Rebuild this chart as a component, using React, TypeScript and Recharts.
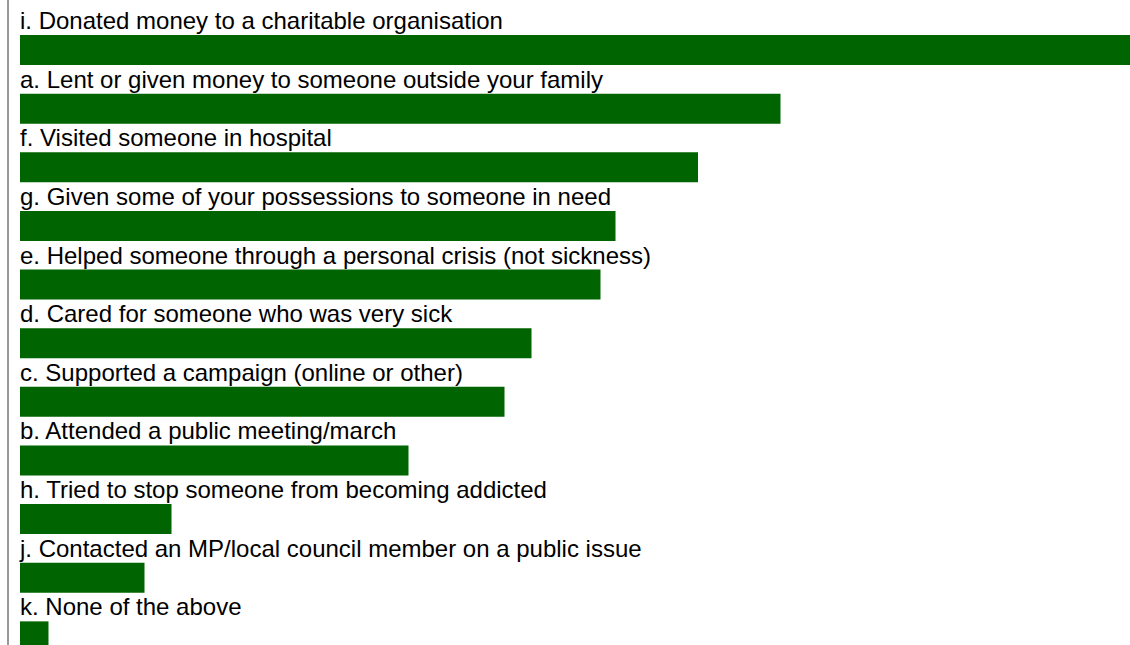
import React from "react";
import { BarChart, Bar, XAxis, YAxis, LabelList } from "recharts";

const categories = [
  "i. Donated money to a charitable organisation",
  "a. Lent or given money to someone outside your family",
  "f. Visited someone in hospital",
  "g. Given some of your possessions to someone in need",
  "e. Helped someone through a personal crisis (not sickness)",
  "d. Cared for someone who was very sick",
  "c. Supported a campaign (online or other)",
  "b. Attended a public meeting/march",
  "h. Tried to stop someone from becoming addicted",
  "j. Contacted an MP/local council member on a public issue",
  "k. None of the above",
];

const values = [74.0, 50.7, 45.2, 39.7, 38.7, 34.1, 32.3, 25.9, 10.1, 8.3, 1.9];

const data = categories.map((name, i) => ({ name, value: values[i] }));

const FONT = "Arial, 'Liberation Sans', sans-serif";

const renderLabel = (props: any) => {
  const { x, y, value } = props;
  return (
    <text x={x} y={y - 6} fontSize={24} fontFamily={FONT} fill="#000">
      {value}
    </text>
  );
};

export default function App() {
  return (
    <div style={{ position: "fixed", left: 0, top: 0, width: 1130, height: 645, overflow: "hidden", background: "#fff" }}>
      <BarChart
        width={1130}
        height={666}
        data={data}
        layout="vertical"
        margin={{ top: 0, right: 0, bottom: 0, left: 0 }}
      >
        <XAxis type="number" domain={[-0.8, 74]} hide />
        <YAxis
          type="category"
          dataKey="name"
          width={8}
          tick={false}
          tickLine={false}
          axisLine={{ stroke: "#333", strokeWidth: 1 }}
          padding={{ top: 21, bottom: 0 }}
        />
        <Bar dataKey="value" fill="#006400" barSize={30} isAnimationActive={false}>
          <LabelList dataKey="name" content={renderLabel} />
        </Bar>
      </BarChart>
    </div>
  );
}
